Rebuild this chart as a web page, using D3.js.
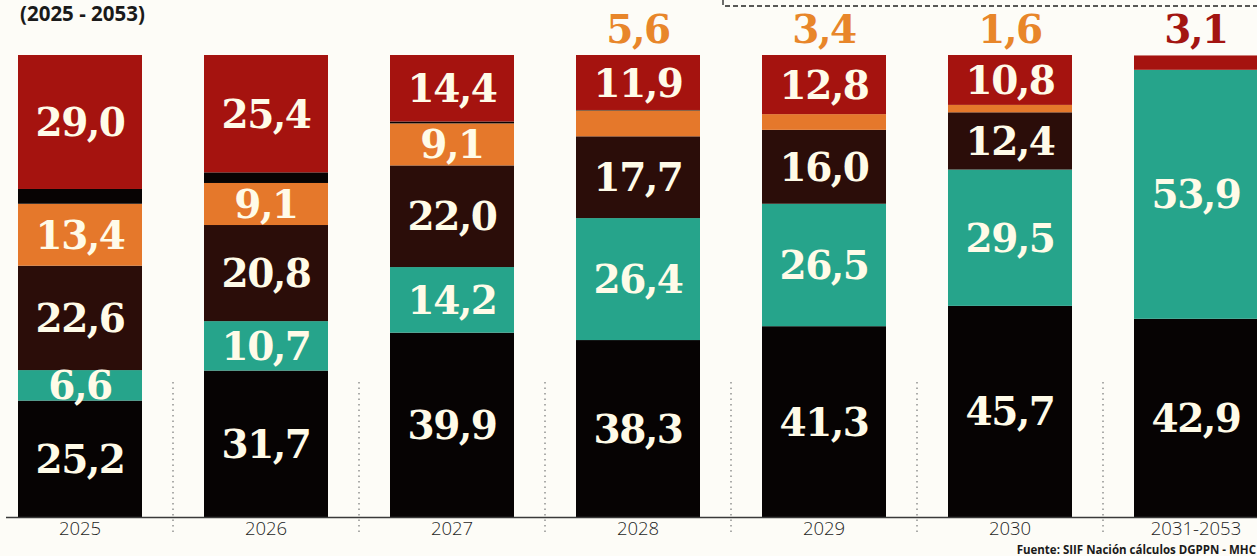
<!DOCTYPE html>
<html>
<head>
<meta charset="utf-8">
<script src="https://cdn.jsdelivr.net/npm/d3@7"></script>
<style>
  body { margin: 0; background: #fdfcf7; }
  svg { display: block; }
  .val { font-family: "DejaVu Serif", serif; font-weight: 700; font-size: 39px; letter-spacing: -1.5px; }
</style>
</head>
<body>
<svg width="1257" height="556"></svg>
<script>
// data, bottom segment first
var years = ["2025", "2026", "2027", "2028", "2029", "2030", "2031-2053"];
var keys = ["negro", "verde", "cafe", "naranja", "franja", "rojo"];
var negro   = [25.2, 31.7, 39.9, 38.3, 41.3, 45.7, 42.9];
var verde   = [6.6, 10.7, 14.2, 26.4, 26.5, 29.5, 53.9];
var cafe    = [22.6, 20.8, 22.0, 17.7, 16.0, 12.4, 0];
var naranja = [13.4, 9.1, 9.1, 5.6, 3.4, 1.6, 0];
var franja  = [3.2, 2.3, 0.4, 0.1, 0, 0, 0];
var rojo    = [29.0, 25.4, 14.4, 11.9, 12.8, 10.8, 3.1];

var colors = {
  negro: "#060303", verde: "#26a48b", cafe: "#2b0d09",
  naranja: "#e5782b", franja: "#070303", rojo: "#a5130f"
};
var outColors = { naranja: "#e8862a", rojo: "#a31512" };

var rows = years.map(function(y, i) {
  return { year: y, negro: negro[i], verde: verde[i], cafe: cafe[i],
           naranja: naranja[i], franja: franja[i], rojo: rojo[i] };
});

var svg = d3.select("svg");

var x = d3.scaleBand().domain(years).range([18, 1258]).paddingInner(1 / 3).paddingOuter(0);
var y = d3.scaleLinear().domain([0, 100]).range([517, 55]);

var fmt = function(v) { return d3.format(".1f")(v).replace(".", ","); };

var stack = d3.stack().keys(keys)(rows);

// title fragment
svg.append("text")
  .attr("x", 20).attr("y", 21)
  .style("font-family", "Open Sans").style("font-weight", 700).style("font-size", "20.5px")
  .attr("fill", "#1a1a1a")
  .text("(2025 - 2053)");

// dashed line on top right
svg.append("path")
  .attr("d", "M723,0V6H1257")
  .attr("fill", "none").attr("stroke", "#222").attr("stroke-width", 1.3)
  .attr("stroke-dasharray", "5,3");

// dotted separators
var step = x.step();
svg.selectAll(".sep")
  .data(years.slice(0, -1))
  .enter().append("line")
    .attr("class", "sep")
    .attr("x1", function(d) { return x(d) + x.bandwidth() + (step - x.bandwidth()) / 2; })
    .attr("x2", function(d) { return x(d) + x.bandwidth() + (step - x.bandwidth()) / 2; })
    .attr("y1", 382).attr("y2", 535)
    .attr("stroke", "#777").attr("stroke-width", 1.2)
    .attr("stroke-dasharray", "1.5,4");

// bars
var layer = svg.selectAll(".layer")
  .data(stack)
  .enter().append("g")
    .attr("class", "layer")
    .attr("fill", function(d) { return colors[d.key]; });

layer.selectAll("rect")
  .data(function(d) { return d; })
  .enter().append("rect")
    .attr("x", function(d) { return x(d.data.year); })
    .attr("y", function(d) { return y(d[1]); })
    .attr("width", x.bandwidth())
    .attr("height", function(d) { return y(d[0]) - y(d[1]); });

// labels: inside big segments, above the bar for the small ones
stack.forEach(function(s) {
  if (s.key === "franja") return;
  s.forEach(function(d) {
    var v = d[1] - d[0];
    var cx = x(d.data.year) + x.bandwidth() / 2;
    if (v >= 6) {
      svg.append("text")
        .attr("class", "val")
        .attr("x", cx).attr("y", (y(d[0]) + y(d[1])) / 2)
        .attr("dy", "0.36em")
        .attr("text-anchor", "middle")
        .attr("fill", "#fffbe8")
        .text(fmt(d.data[s.key]));
    } else if (v > 0) {
      svg.append("text")
        .attr("class", "val")
        .attr("x", cx).attr("y", y(100) - 12)
        .attr("text-anchor", "middle")
        .attr("fill", outColors[s.key])
        .text(fmt(d.data[s.key]));
    }
  });
});

// x axis
var axis = svg.append("g")
  .attr("transform", "translate(0,517)")
  .call(d3.axisBottom(x).tickSize(0).tickPadding(5));
axis.select(".domain").remove();
axis.selectAll("text")
  .style("font-family", "Open Sans").style("font-weight", 300).style("font-size", "18.5px")
  .attr("fill", "#1e1e1e");
svg.append("line")
  .attr("x1", 6).attr("x2", 1257).attr("y1", 517.5).attr("y2", 517.5)
  .attr("stroke", "#3a3a3a").attr("stroke-width", 1.6);

// source
svg.append("text")
  .attr("x", 1256).attr("y", 554)
  .attr("text-anchor", "end")
  .style("font-family", "Open Sans").style("font-weight", 700).style("font-size", "11.5px")
  .attr("fill", "#1a1a1a")
  .text("Fuente: SIIF Nación cálculos DGPPN - MHC");
</script>
</body>
</html>
